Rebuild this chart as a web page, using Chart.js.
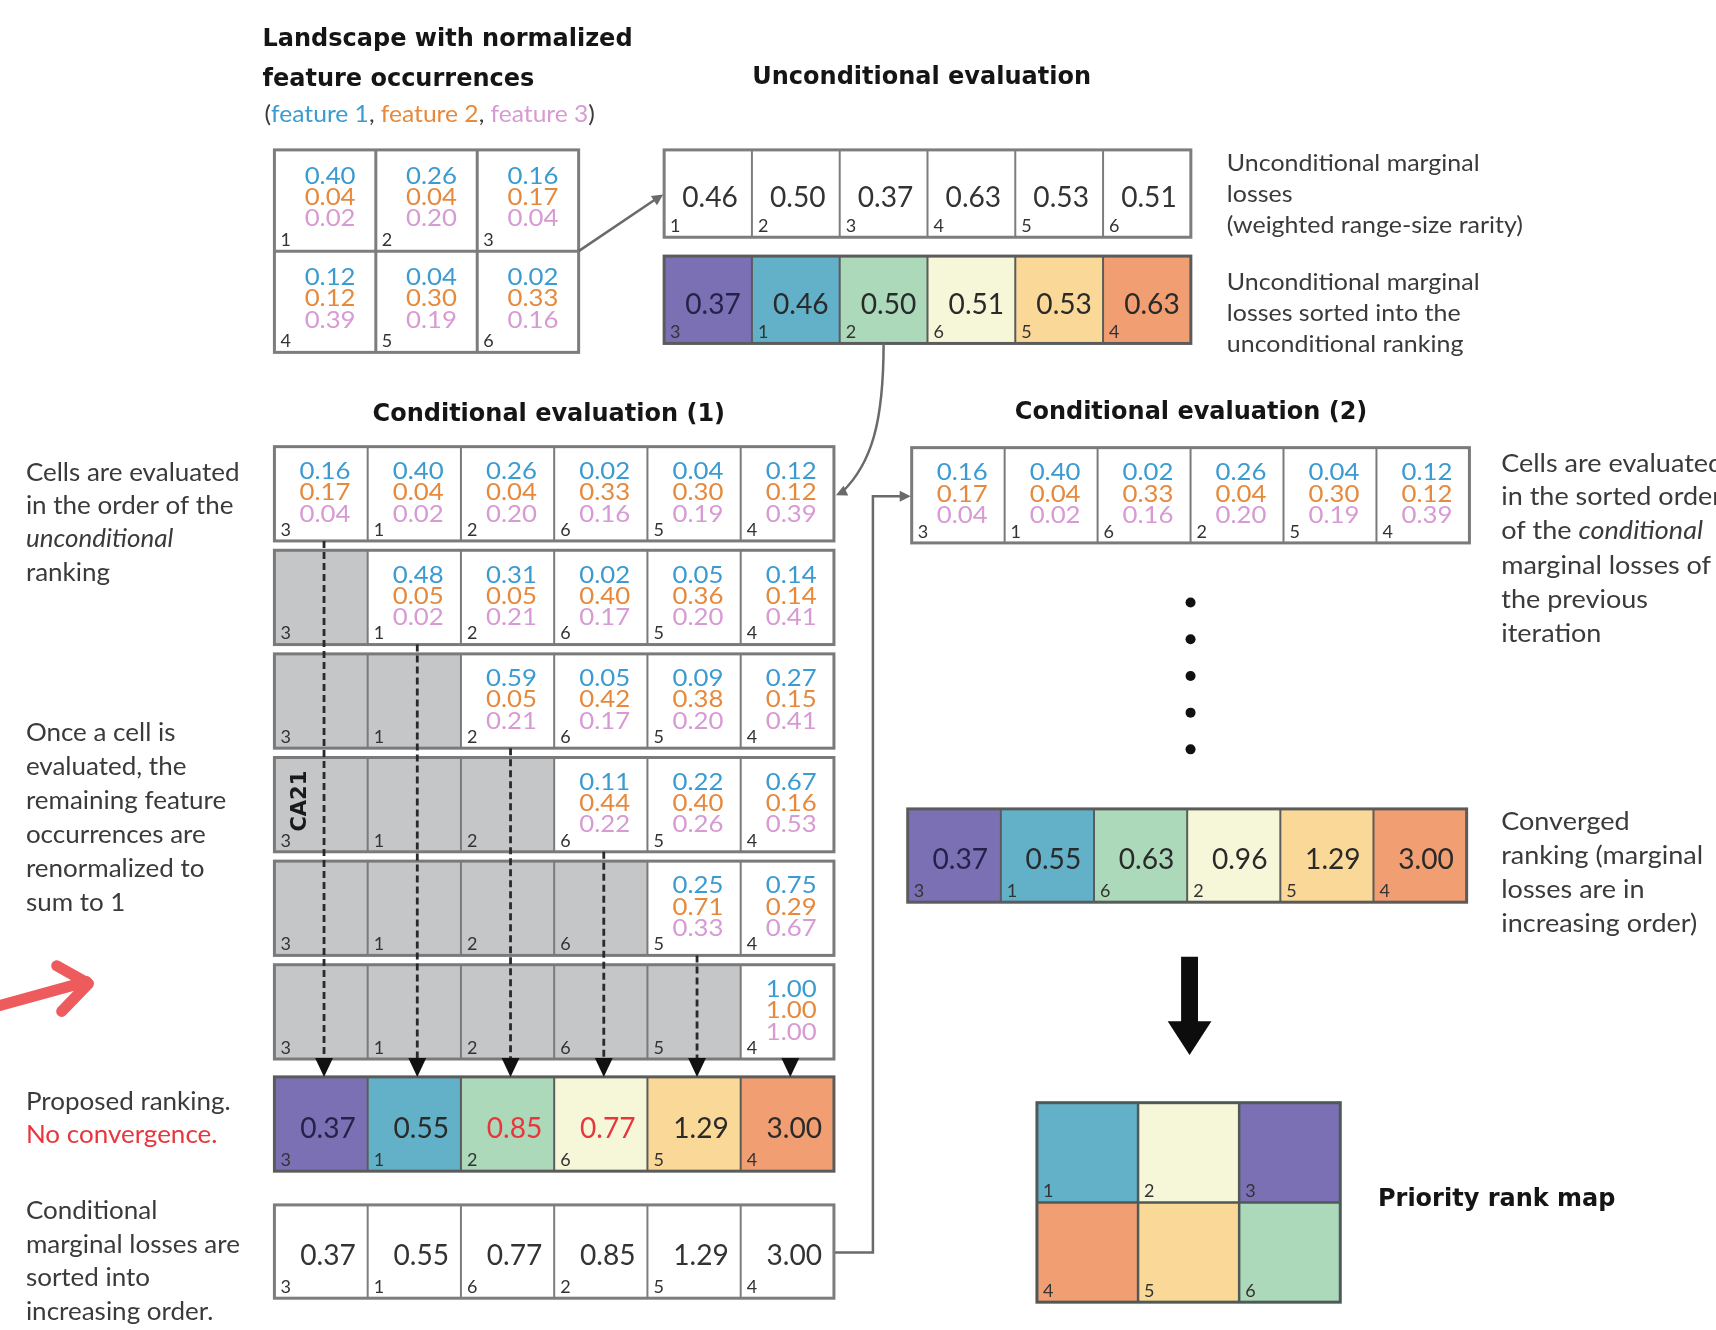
<!DOCTYPE html>
<html><head><meta charset="utf-8">
<script src="https://cdn.jsdelivr.net/npm/chart.js@4"></script>
<style>html,body{margin:0;padding:0;background:#fff}canvas{display:block}</style>
</head><body>
<canvas id="c" width="1716" height="1330"></canvas>
<script>
// ---------------- DATA ----------------
const cellIds = [1, 2, 3, 4, 5, 6];
const feature1 = [0.40, 0.26, 0.16, 0.12, 0.04, 0.02];
const feature2 = [0.04, 0.04, 0.17, 0.12, 0.30, 0.33];
const feature3 = [0.02, 0.20, 0.04, 0.39, 0.19, 0.16];
const featureNames = ['feature 1', 'feature 2', 'feature 3'];

const unconditionalLoss = [0.46, 0.50, 0.37, 0.63, 0.53, 0.51];
const unconditionalOrder = [3, 1, 2, 6, 5, 4];
const unconditionalSorted = [0.37, 0.46, 0.50, 0.51, 0.53, 0.63];

// conditional evaluation (1): renormalized occurrences at each step (columns in unconditional order)
const stepF1 = [[0.16, 0.40, 0.26, 0.02, 0.04, 0.12], [0.48, 0.31, 0.02, 0.05, 0.14], [0.59, 0.05, 0.09, 0.27], [0.11, 0.22, 0.67], [0.25, 0.75], [1.00]];
const stepF2 = [[0.17, 0.04, 0.04, 0.33, 0.30, 0.12], [0.05, 0.05, 0.40, 0.36, 0.14], [0.05, 0.42, 0.38, 0.15], [0.44, 0.40, 0.16], [0.71, 0.29], [1.00]];
const stepF3 = [[0.04, 0.02, 0.20, 0.16, 0.19, 0.39], [0.02, 0.21, 0.17, 0.20, 0.41], [0.21, 0.17, 0.20, 0.41], [0.22, 0.26, 0.53], [0.33, 0.67], [1.00]];

const proposedLoss = [0.37, 0.55, 0.85, 0.77, 1.29, 3.00];
const proposedOrder = [3, 1, 2, 6, 5, 4];
const proposedOutOfOrder = [false, false, true, true, false, false];

const conditionalSorted = [0.37, 0.55, 0.77, 0.85, 1.29, 3.00];
const conditionalOrder = [3, 1, 6, 2, 5, 4];

const cond2F1 = [0.16, 0.40, 0.02, 0.26, 0.04, 0.12];
const cond2F2 = [0.17, 0.04, 0.33, 0.04, 0.30, 0.12];
const cond2F3 = [0.04, 0.02, 0.16, 0.20, 0.19, 0.39];

const convergedLoss = [0.37, 0.55, 0.63, 0.96, 1.29, 3.00];
const convergedOrder = [3, 1, 6, 2, 5, 4];

const rankColors = ['#7b70b4', '#62b1c9', '#abd9ba', '#f6f7d9', '#f9d898', '#f29e73'];
const featureColors = ['#3b9bd1', '#e6893d', '#d79ad3'];

// ---------------- LAYOUT (diagram units) ----------------
const G = {
  land: {x: 271, y: 146, w: 102, h: 102},
  uncond: {x: 663, y: 146, w: 88.3, h: 88, dx: 2},
  uncondSorted: {x: 663, y: 253, w: 88.3, h: 88, dx: 5},
  cond1: {x: 271, y: 445, w: 93.8, h: 95, pitch: 104.4},
  proposed: {x: 271, y: 1080, w: 93.8, h: 95, dx: 7},
  condSorted: {x: 271, y: 1209, w: 93.8, h: 94, dx: 7},
  cond2: {x: 912, y: 446, w: 93.5, h: 96},
  converged: {x: 908, y: 810, w: 93.7, h: 94, dx: 6},
  map: {x: 1038, y: 1106, w: 101.7, h: 100.5}
};
const dotCount = 5;
const dotsData = [];
for (let i = 0; i < dotCount; i++) dotsData.push({x: G.cond2.x + 3 * G.cond2.w, y: 602 + i * 37});

const SANS = 'Lato, "Open Sans", sans-serif';
const TITLE = '"DejaVu Sans", sans-serif';

const diagramPlugin = {
  id: 'diagram',
  beforeDatasetsDraw(chart) {
    const ctx = chart.ctx;
    const xs = chart.scales.x, ys = chart.scales.y;
    const X = v => xs.getPixelForValue(v);
    const Y = v => ys.getPixelForValue(v);

    function txt(s, x, y, font, color, align, sx) {
      ctx.save();
      ctx.font = font; ctx.fillStyle = color;
      ctx.textAlign = align || 'left'; ctx.textBaseline = 'middle';
      ctx.translate(X(x), Y(y)); ctx.scale(sx || 1, 1);
      ctx.fillText(s, 0, 0);
      ctx.restore();
    }
    function runs(list, x, y, size, sx) {
      sx = sx || 1;
      let cx = 0;
      ctx.save();
      ctx.translate(X(x), Y(y)); ctx.scale(sx, 1);
      list.forEach(r => {
        ctx.font = (r.style || '') + ' ' + size + 'px ' + SANS;
        ctx.fillStyle = r.color || '#3a3a3a';
        ctx.textBaseline = 'middle'; ctx.textAlign = 'left';
        ctx.fillText(r.t, cx, 0);
        cx += ctx.measureText(r.t).width;
      });
      ctx.restore();
    }
    function rect(x, y, w, h, fill) {
      ctx.fillStyle = fill;
      ctx.fillRect(X(x), Y(y), X(x + w) - X(x), Y(y + h) - Y(y));
    }
    function gridBorder(x, y, w, h, ncol, nrow, color, lwIn, lwOut) {
      ctx.save();
      ctx.strokeStyle = color; ctx.lineWidth = lwIn;
      for (let c = 1; c < ncol; c++) {
        ctx.beginPath(); ctx.moveTo(X(x + c * w), Y(y)); ctx.lineTo(X(x + c * w), Y(y + nrow * h)); ctx.stroke();
      }
      for (let r = 1; r < nrow; r++) {
        ctx.beginPath(); ctx.moveTo(X(x), Y(y + r * h)); ctx.lineTo(X(x + ncol * w), Y(y + r * h)); ctx.stroke();
      }
      ctx.lineWidth = lwOut;
      ctx.strokeRect(X(x), Y(y), X(x + ncol * w) - X(x), Y(y + nrow * h) - Y(y));
      ctx.restore();
    }
    function idLabel(id, x, yBottom) {
      txt(String(id), x + 6, yBottom - 11, '18px ' + SANS, '#333', 'left');
    }
    function triple(vals, cx, cy) {
      vals.forEach((v, k) => {
        txt(v.toFixed(2), cx, cy + (k - 1) * 21.5, '23px ' + SANS, featureColors[k], 'center', 1.12);
      });
    }
    function arrowHead(x, y, ang, size, color) {
      ctx.save();
      ctx.fillStyle = color;
      ctx.translate(X(x), Y(y)); ctx.rotate(ang);
      ctx.beginPath(); ctx.moveTo(0, 0); ctx.lineTo(-size, -size * 0.5); ctx.lineTo(-size, size * 0.5); ctx.closePath(); ctx.fill();
      ctx.restore();
    }
    function valueRow(g, values, ids, fills, valueColors, borderColor) {
      for (let c = 0; c < values.length; c++) {
        rect(g.x + c * g.w, g.y, g.w, g.h, fills[c]);
      }
      for (let c = 0; c < values.length; c++) {
        txt(values[c].toFixed(2), g.x + c * g.w + g.w / 2 + g.dx, g.y + g.h / 2 + 4.5, '29px ' + SANS, valueColors[c], 'center', 0.97);
        idLabel(ids[c], g.x + c * g.w, g.y + g.h);
      }
      gridBorder(g.x, g.y, g.w, g.h, values.length, 1, borderColor, 2, 3);
    }

    // ---- Titles ----
    const TF = 'bold 24px ' + TITLE;
    txt('Landscape with normalized', 259, 35, TF, '#151515', 'left', 1.0);
    txt('feature occurrences', 259, 75, TF, '#151515', 'left', 1.0);
    runs([{t: '('}, {t: featureNames[0], color: featureColors[0]}, {t: ', '}, {t: featureNames[1], color: featureColors[1]}, {t: ', '}, {t: featureNames[2], color: featureColors[2]}, {t: ')'}], 261, 110, 23, 1.07);
    txt('Unconditional evaluation', 922, 73, TF, '#151515', 'center', 1.0);
    txt('Conditional evaluation (1)', 547, 413, TF, '#151515', 'center', 1.0);
    txt('Conditional evaluation (2)', 1193, 411, TF, '#151515', 'center', 1.0);
    txt('Priority rank map', 1381, 1204, TF, '#151515', 'left', 1.0);

    // ---- Landscape grid ----
    const L = G.land;
    for (let i = 0; i < cellIds.length; i++) {
      const c = i % 3, r = Math.floor(i / 3);
      rect(L.x + c * L.w, L.y + r * L.h, L.w, L.h, '#ffffff');
      triple([feature1[i], feature2[i], feature3[i]], L.x + c * L.w + L.w / 2 + 5, L.y + r * L.h + L.h / 2 - 3);
      idLabel(cellIds[i], L.x + c * L.w, L.y + (r + 1) * L.h);
    }
    gridBorder(L.x, L.y, L.w, L.h, 3, 2, '#7d7d7d', 3, 3);

    // ---- Unconditional rows ----
    valueRow(G.uncond, unconditionalLoss, cellIds, cellIds.map(() => '#fff'), cellIds.map(() => '#333'), '#7d7d7d');
    valueRow(G.uncondSorted, unconditionalSorted, unconditionalOrder, rankColors, cellIds.map((v, i) => i === 0 ? '#23234a' : '#2a2a2a'), '#5b5b5b');

    // connectors
    ctx.save();
    ctx.strokeStyle = '#6a6a6a'; ctx.lineWidth = 2.5;
    ctx.beginPath(); ctx.moveTo(X(L.x + 3 * L.w), Y(L.y + L.h)); ctx.lineTo(X(G.uncond.x - 6), Y(194)); ctx.stroke();
    arrowHead(G.uncond.x - 1, 191, Math.atan2(Y(191) - Y(L.y + L.h), X(G.uncond.x) - X(L.x + 3 * L.w)), 11, '#6a6a6a');
    const sx0 = G.uncondSorted.x + 2.5 * G.uncondSorted.w;
    ctx.beginPath(); ctx.moveTo(X(sx0), Y(G.uncondSorted.y + G.uncondSorted.h));
    ctx.bezierCurveTo(X(sx0), Y(420), X(sx0 - 12), Y(462), X(G.cond1.x + 6 * G.cond1.w + 8), Y(491));
    ctx.stroke();
    arrowHead(G.cond1.x + 6 * G.cond1.w + 2, 494, Math.PI * 0.86, 11, '#6a6a6a');
    const ex = 873, ey = G.condSorted.y + G.condSorted.h / 2 + 1;
    ctx.beginPath(); ctx.moveTo(X(G.condSorted.x + 6 * G.condSorted.w), Y(ey)); ctx.lineTo(X(ex), Y(ey)); ctx.lineTo(X(ex), Y(495)); ctx.lineTo(X(G.cond2.x - 6), Y(495)); ctx.stroke();
    arrowHead(G.cond2.x - 1, 495, 0, 11, '#6a6a6a');
    ctx.restore();

    // ---- Conditional evaluation (1) ----
    const C = G.cond1;
    for (let r = 0; r < 6; r++) {
      const y0 = C.y + r * C.pitch;
      for (let c = 0; c < 6; c++) {
        rect(C.x + c * C.w, y0, C.w, C.h, c < r ? '#c5c6c8' : '#ffffff');
        if (c >= r) triple([stepF1[r][c - r], stepF2[r][c - r], stepF3[r][c - r]], C.x + c * C.w + C.w / 2 + 4, y0 + C.h / 2 - 1);
        idLabel(proposedOrder[c], C.x + c * C.w, y0 + C.h);
      }
      gridBorder(C.x, y0, C.w, C.h, 6, 1, '#7a7a7a', 2, 3);
    }
    // CA21 label
    ctx.save();
    ctx.translate(X(C.x + 26), Y(C.y + 3 * C.pitch + 44));
    ctx.rotate(-Math.PI / 2);
    ctx.font = 'bold 21px ' + TITLE; ctx.fillStyle = '#1a1a1a'; ctx.textAlign = 'center'; ctx.textBaseline = 'middle';
    ctx.fillText('CA21', 0, 0);
    ctx.restore();

    // proposed ranking row
    const P = G.proposed;
    valueRow(P, proposedLoss, proposedOrder, rankColors, proposedOutOfOrder.map((f, i) => f ? '#e8363c' : (i === 0 ? '#23234a' : '#2a2a2a')), '#5b5b5b');

    // dashed evaluation lines
    ctx.save();
    ctx.strokeStyle = '#2a2a2a'; ctx.lineWidth = 2.8; ctx.setLineDash([7, 4]);
    for (let c = 0; c < 6; c++) {
      const lx = C.x + c * C.w + C.w / 2 + 3;
      const yStart = C.y + c * C.pitch + C.h;
      const yEnd = P.y - 18;
      if (yEnd > yStart) {
        ctx.beginPath(); ctx.moveTo(X(lx), Y(yStart)); ctx.lineTo(X(lx), Y(yEnd)); ctx.stroke();
      }
    }
    ctx.restore();
    for (let c = 0; c < 6; c++) {
      const lx = C.x + c * C.w + C.w / 2 + 3;
      ctx.fillStyle = '#111';
      ctx.beginPath(); ctx.moveTo(X(lx - 9), Y(P.y - 19)); ctx.lineTo(X(lx + 9), Y(P.y - 19)); ctx.lineTo(X(lx), Y(P.y)); ctx.closePath(); ctx.fill();
    }

    // conditional sorted row
    valueRow(G.condSorted, conditionalSorted, conditionalOrder, cellIds.map(() => '#fff'), cellIds.map(() => '#333'), '#7d7d7d');

    // ---- Conditional evaluation (2) ----
    const D = G.cond2;
    for (let c = 0; c < 6; c++) {
      rect(D.x + c * D.w, D.y, D.w, D.h, '#fff');
      triple([cond2F1[c], cond2F2[c], cond2F3[c]], D.x + c * D.w + D.w / 2 + 4, D.y + D.h / 2 - 1);
      idLabel(conditionalOrder[c], D.x + c * D.w, D.y + D.h);
    }
    gridBorder(D.x, D.y, D.w, D.h, 6, 1, '#7a7a7a', 2, 3);

    valueRow(G.converged, convergedLoss, convergedOrder, rankColors, convergedLoss.map((v, i) => i === 0 ? '#23234a' : '#2a2a2a'), '#5b5b5b');

    // big down arrow
    ctx.fillStyle = '#0d0d0d';
    const ax = D.x + 3 * D.w - 1;
    ctx.beginPath();
    ctx.moveTo(X(ax - 8.5), Y(959)); ctx.lineTo(X(ax + 8.5), Y(959)); ctx.lineTo(X(ax + 8.5), Y(1024));
    ctx.lineTo(X(ax + 22), Y(1024)); ctx.lineTo(X(ax), Y(1058)); ctx.lineTo(X(ax - 22), Y(1024)); ctx.lineTo(X(ax - 8.5), Y(1024));
    ctx.closePath(); ctx.fill();

    // priority rank map
    const M = G.map;
    for (let i = 0; i < cellIds.length; i++) {
      const c = i % 3, r = Math.floor(i / 3);
      const rank = convergedOrder.indexOf(cellIds[i]);
      rect(M.x + c * M.w, M.y + r * M.h, M.w, M.h, rankColors[rank]);
      idLabel(cellIds[i], M.x + c * M.w, M.y + (r + 1) * M.h);
    }
    gridBorder(M.x, M.y, M.w, M.h, 3, 2, '#4f5a58', 2.5, 3);

    // ---- Side texts ----
    const S = 25, SX = 1.04, LX = 21;
    ['Cells are evaluated', 'in the order of the'].forEach((l, i) => runs([{t: l}], LX, 471 + i * 33.7, S, SX));
    runs([{t: 'unconditional', style: 'italic'}], LX, 538, S, SX);
    runs([{t: 'ranking'}], LX, 572, S, SX);
    ['Once a cell is', 'evaluated, the', 'remaining feature', 'occurrences are', 'renormalized to', 'sum to 1'].forEach((l, i) => runs([{t: l}], LX, 733 + i * 34.4, S, SX));
    runs([{t: 'Proposed ranking.'}], LX, 1105, S, SX);
    runs([{t: 'No convergence.', color: '#e8363c'}], LX, 1139, S, SX);
    ['Conditional', 'marginal losses are', 'sorted into', 'increasing order.'].forEach((l, i) => runs([{t: l}], LX, 1215 + i * 34, S, SX));

    ['Unconditional marginal', 'losses', '(weighted range-size rarity)'].forEach((l, i) => runs([{t: l}], 1229, 159 + i * 31.5, 24, 1.04));
    ['Unconditional marginal', 'losses sorted into the', 'unconditional ranking'].forEach((l, i) => runs([{t: l}], 1229, 279 + i * 31.5, 24, 1.04));

    const RX = 1505, RSX = 1.08;
    runs([{t: 'Cells are evaluated'}], RX, 462, S, RSX);
    runs([{t: 'in the sorted order'}], RX, 496, S, RSX);
    runs([{t: 'of the '}, {t: 'conditional', style: 'italic'}], RX, 530, S, RSX);
    ['marginal losses of', 'the previous', 'iteration'].forEach((l, i) => runs([{t: l}], RX, 565 + i * 34.3, S, RSX));
    ['Converged', 'ranking (marginal', 'losses are in', 'increasing order)'].forEach((l, i) => runs([{t: l}], RX, 823 + i * 34.3, S, RSX));

    // red arrow
    ctx.save();
    ctx.strokeStyle = '#ee5b5d'; ctx.lineWidth = 11; ctx.lineCap = 'round'; ctx.lineJoin = 'round';
    ctx.beginPath(); ctx.moveTo(X(-5), Y(1008)); ctx.lineTo(X(82), Y(984)); ctx.stroke();
    ctx.beginPath(); ctx.moveTo(X(52), Y(968)); ctx.lineTo(X(84), Y(986)); ctx.lineTo(X(57), Y(1014)); ctx.stroke();
    ctx.restore();
  }
};

new Chart(document.getElementById('c'), {
  type: 'scatter',
  data: {datasets: [{data: dotsData, pointRadius: 5, pointHoverRadius: 5, backgroundColor: '#111', borderWidth: 0}]},
  options: {
    responsive: false, animation: false, devicePixelRatio: 1,
    layout: {padding: 0},
    plugins: {legend: {display: false}, tooltip: {enabled: false}},
    scales: {
      x: {type: 'linear', min: 0, max: 1716, display: false},
      y: {type: 'linear', min: 0, max: 1330, reverse: true, display: false}
    }
  },
  plugins: [diagramPlugin]
});
</script>
</body></html>
